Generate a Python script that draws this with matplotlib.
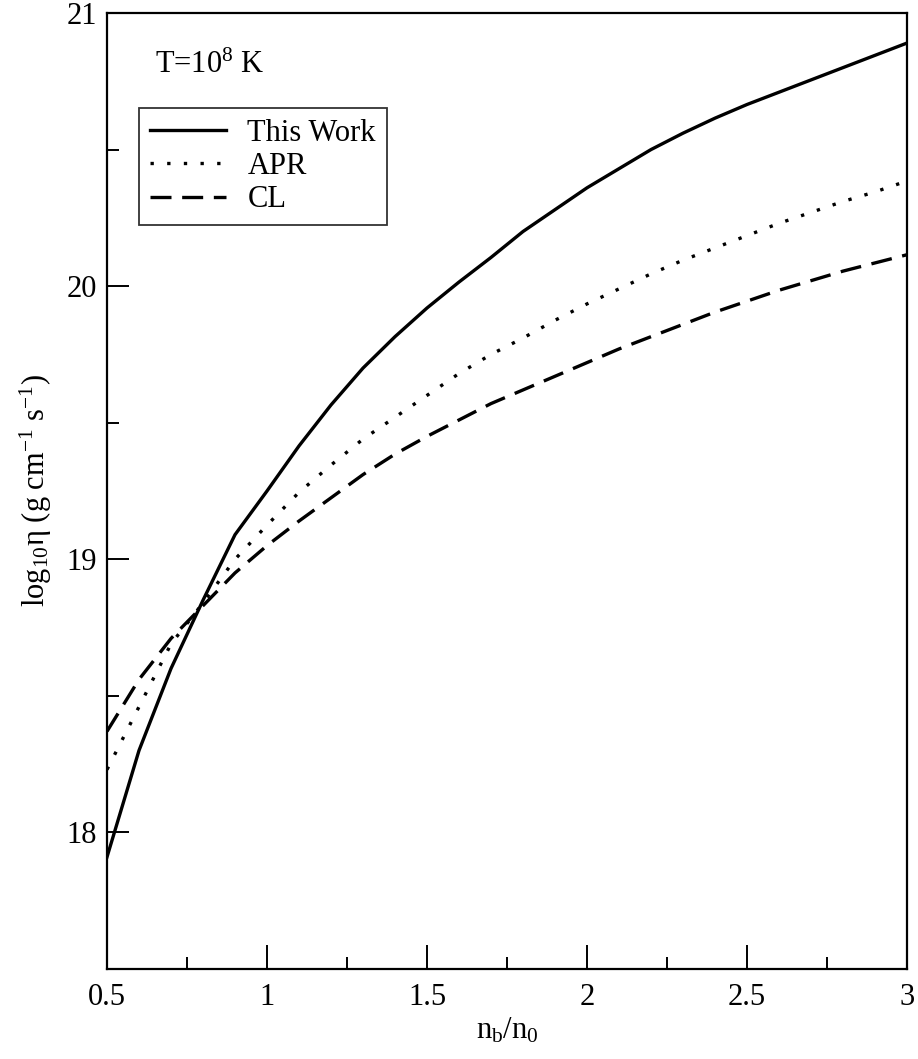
#!/usr/bin/env python3
"""Shear viscosity vs. baryon density at T = 1e8 K for three EOS models."""

import matplotlib
matplotlib.use('Agg')
import matplotlib.pyplot as plt
from matplotlib.ticker import MultipleLocator

# density grid n_b/n_0
density = [0.5, 0.6, 0.7, 0.8, 0.9, 1.0, 1.1, 1.2, 1.3, 1.4, 1.5, 1.6, 1.7,
           1.8, 1.9, 2.0, 2.1, 2.2, 2.3, 2.4, 2.5, 2.6, 2.7, 2.8, 2.9, 3.0]

# log10 eta in g cm^-1 s^-1
eta_this_work = [17.91, 18.30, 18.60, 18.85, 19.09, 19.25, 19.415, 19.565, 19.70,
                 19.815, 19.92, 20.015, 20.105, 20.20, 20.28, 20.36, 20.43, 20.50,
                 20.56, 20.615, 20.665, 20.71, 20.755, 20.80, 20.845, 20.89]
eta_apr = [18.23, 18.46, 18.69, 18.84, 19.00, 19.125, 19.245, 19.345, 19.44, 19.52,
           19.60, 19.68, 19.75, 19.81, 19.875, 19.935, 19.99, 20.045, 20.095, 20.14,
           20.185, 20.23, 20.27, 20.31, 20.345, 20.385]
eta_cl = [18.37, 18.56, 18.71, 18.83, 18.95, 19.05, 19.14, 19.225, 19.31, 19.385,
          19.45, 19.51, 19.57, 19.62, 19.67, 19.72, 19.77, 19.815, 19.86, 19.905,
          19.945, 19.985, 20.02, 20.055, 20.085, 20.115]

plt.rcParams['font.family'] = ['Liberation Serif', 'DejaVu Serif']
plt.rcParams['mathtext.fontset'] = 'custom'
plt.rcParams['mathtext.rm'] = 'Liberation Serif'
plt.rcParams['mathtext.it'] = 'Liberation Serif'
plt.rcParams['mathtext.default'] = 'regular'

fs = 22

fig = plt.figure(figsize=(9.18, 10.59), dpi=100)
ax = fig.add_axes([107 / 918, 90 / 1059, 800 / 918, 956 / 1059])

lw = 2.4
ax.plot(density, eta_this_work, color='black', lw=lw, label='This Work')
ax.plot(density, eta_apr, color='black', lw=lw, linestyle=(0, (1, 4.0)),
        dash_capstyle='butt', label='APR')
ax.plot(density, eta_cl, color='black', lw=lw, linestyle=(0, (6.3, 3.2)),
        dash_capstyle='butt', label='CL')

ax.set_xlim(0.5, 3.0)
ax.set_ylim(17.5, 21.0)
ax.xaxis.set_minor_locator(MultipleLocator(0.25))
ax.yaxis.set_minor_locator(MultipleLocator(0.5))
ax.set_xticks([0.5, 1, 1.5, 2, 2.5, 3])
ax.set_xticklabels(['0.5', '1', '1.5', '2', '2.5', '3'])
ax.set_yticks([18, 19, 20, 21])
ax.set_yticklabels(['18', '19', '20', '21'])

ax.tick_params(which='both', direction='in', top=False, right=False,
               width=1.4, labelsize=fs)
ax.tick_params(axis='x', which='major', length=17, pad=10)
ax.tick_params(axis='y', which='major', length=16, pad=7)
ax.tick_params(which='minor', length=8.5)
for sp in ax.spines.values():
    sp.set_linewidth(1.6)

ax.set_xlabel(r'n$_b$/n$_0$', fontsize=fs, labelpad=3)
ax.set_ylabel(r'log$_{10}$η (g cm$^{-1}$ s$^{-1}$)', fontsize=fs, labelpad=9)

ax.text(0.06, 0.937, r'T=10$^{8}$ K', transform=ax.transAxes, fontsize=fs,
        ha='left', va='baseline')

leg = ax.legend(loc='upper left', bbox_to_anchor=(0.04, 0.9006), borderaxespad=0,
                fontsize=fs, frameon=True, fancybox=False, handlelength=2.5,
                handletextpad=0.7, labelspacing=0.14, borderpad=0.35)
leg.get_frame().set_edgecolor('black')
leg.get_frame().set_linewidth(1.3)

fig.savefig('out.png', dpi=100)
